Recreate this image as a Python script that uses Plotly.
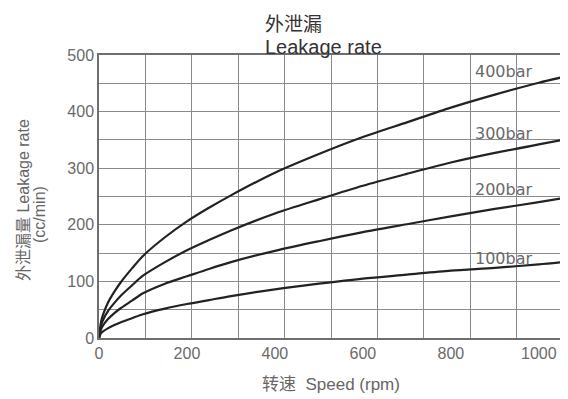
import plotly.graph_objects as go

speed = [0, 5, 10, 20, 35, 50, 75, 100, 150, 200, 250, 300, 400, 500, 600, 700, 800, 900, 1000, 1055]
leak_400 = [0, 30, 43, 62, 82, 99, 123, 145, 178, 206, 230, 252, 292, 325, 355, 381, 407, 430, 451, 461]
leak_300 = [0, 23, 33, 47, 62, 75, 93, 110, 134, 155, 173, 190, 220, 245, 269, 290, 310, 327, 342, 350]
leak_200 = [0, 16, 23, 33, 44, 53, 66, 79, 96, 109, 122, 134, 154, 171, 187, 201, 215, 228, 240, 247]
leak_100 = [0, 9, 12, 17, 23, 28, 35, 42, 52, 60, 67, 74, 86, 96, 105, 112, 119, 124, 130, 134]
series_names = ["400bar", "300bar", "200bar", "100bar"]
series_vals = [leak_400, leak_300, leak_200, leak_100]
label_pos = [(850, 470), (850, 362), (850, 263), (850, 140)]

x_ticks = [0, 200, 400, 600, 800, 1000]
y_ticks = [0, 100, 200, 300, 400, 500]
x_max = 1055

LAT = "Liberation Sans, Arial, sans-serif"
CJK = "Liberation Sans, Noto Sans CJK SC, sans-serif"
GRID = "#8a8a8a"

fig = go.Figure()
for name, vals in zip(series_names, series_vals):
    fig.add_trace(go.Scatter(x=speed, y=vals, mode="lines", name=name,
                             line=dict(color="#222222", width=2.2, shape="spline", smoothing=0.8),
                             showlegend=False, hoverinfo="skip"))

for name, (lx, ly) in zip(series_names, label_pos):
    fig.add_annotation(x=lx, y=ly, text=name, showarrow=False, xanchor="left", yanchor="middle",
                       font=dict(family="DejaVu Sans, sans-serif", size=16, color="#6a6a6a"))

grid_x = [x_max / 10 * i for i in range(1, 10)]

# target plot box in window pixels; page body adds an 8px offset
OFF = 8
L, R, T, B = 99, 563, 55, 338
W, H = 568 - OFF, 399 - OFF
fig.update_layout(
    width=W, height=H,
    margin=dict(l=L - OFF, r=W - (R - OFF), t=T - OFF, b=H - (B - OFF)),
    paper_bgcolor="white", plot_bgcolor="white",
    font=dict(family=LAT, color="#666666"),
    xaxis=dict(range=[0, x_max], tickvals=x_ticks, showgrid=False, zeroline=False, automargin=False,
               showline=True, linecolor="#6f6f6f", linewidth=1.5, mirror=True,
               ticks="", tickfont=dict(size=16, color="#6a6a6a"),
               minor=dict(tickvals=grid_x, showgrid=True, gridcolor=GRID, gridwidth=1.4)),
    yaxis=dict(range=[0, 500], tickvals=y_ticks, showgrid=True, gridcolor=GRID, gridwidth=1.4,
               zeroline=False, showline=True, linecolor="#6f6f6f", linewidth=1.5, mirror=True,
               automargin=False, ticks="", tickfont=dict(size=16, color="#6a6a6a"),
               minor=dict(dtick=50, showgrid=True, gridcolor=GRID, gridwidth=1.4)),
)

def px_x(p):
    return (p - L) / (R - L)

def px_y(p):
    return (B - p) / (B - T)

fig.add_annotation(x=px_x(264), y=px_y(OFF), xref="paper", yref="paper",
                   text=("<span style='font-family:Noto Sans CJK SC;font-size:19px'>外泄漏</span><br>"
                         "<span style='font-size:20px'>Leakage rate</span>"),
                   showarrow=False, xanchor="left", yanchor="top", align="left", borderpad=0,
                   font=dict(family=LAT, size=18, color="#333333"))
fig.add_annotation(x=px_x(331), y=px_y(384), xref="paper", yref="paper",
                   text="转速  Speed (rpm)", showarrow=False, xanchor="center", yanchor="middle",
                   font=dict(family=CJK, size=17, color="#666666"))
fig.add_annotation(x=px_x(23), y=px_y(200), xref="paper", yref="paper",
                   text="外泄漏量 Leakage rate", showarrow=False, textangle=-90,
                   xanchor="center", yanchor="middle",
                   font=dict(family=CJK, size=16, color="#666666"))
fig.add_annotation(x=px_x(39), y=px_y(214), xref="paper", yref="paper",
                   text="(cc/min)", showarrow=False, textangle=-90,
                   xanchor="center", yanchor="middle",
                   font=dict(family=CJK, size=16, color="#666666"))

fig.write_html("out.html")
